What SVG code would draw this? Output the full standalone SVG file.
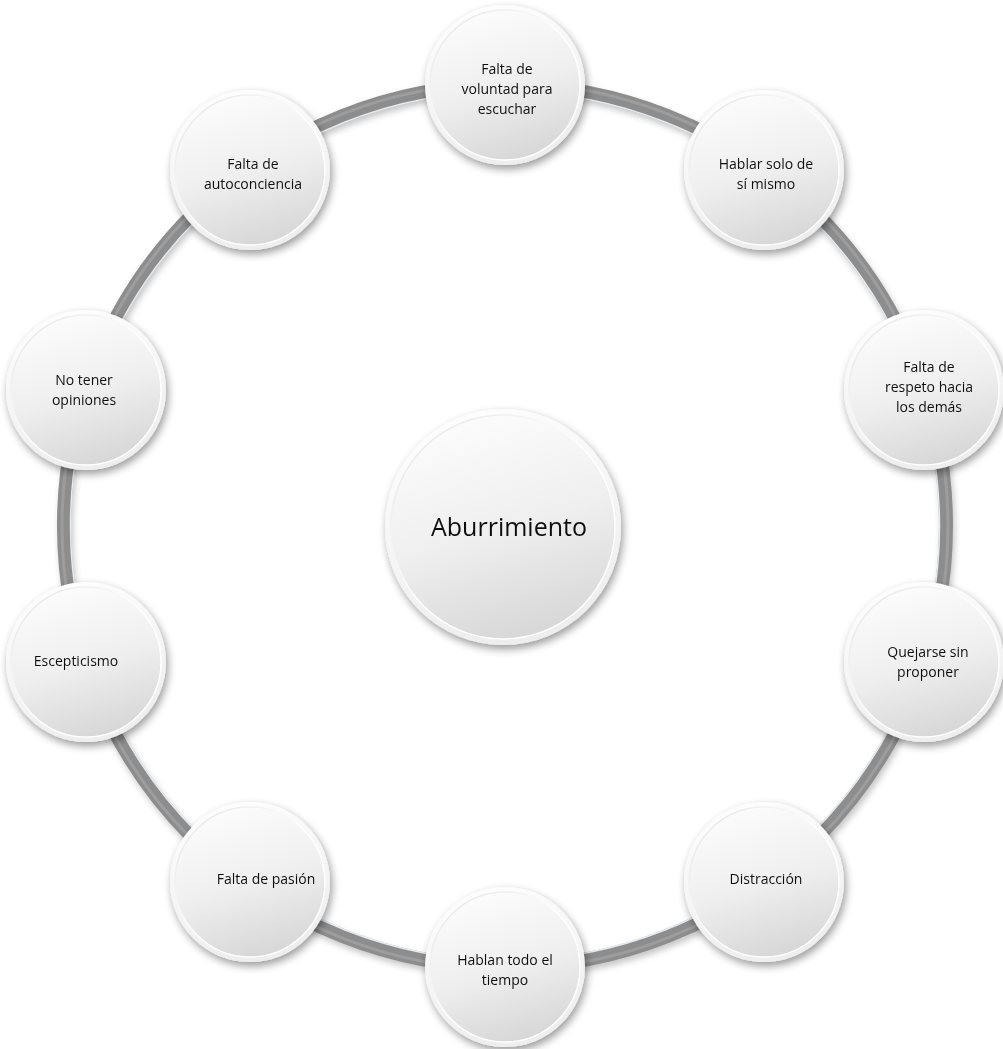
<svg xmlns="http://www.w3.org/2000/svg" width="1003" height="1049" viewBox="0 0 1003 1049">
  <defs>
    <filter id="shadow" x="-30%" y="-30%" width="160%" height="160%">
      <feGaussianBlur in="SourceAlpha" stdDeviation="4"/>
      <feOffset dx="2" dy="4" result="b"/>
      <feComponentTransfer><feFuncA type="linear" slope="0.4"/></feComponentTransfer>
      <feMerge><feMergeNode/><feMergeNode in="SourceGraphic"/></feMerge>
    </filter>
    <filter id="ringShadow" x="-10%" y="-10%" width="120%" height="120%">
      <feGaussianBlur stdDeviation="3"/>
    </filter>
    <linearGradient id="rim" x1="0" y1="0" x2="0.3" y2="1">
      <stop offset="0" stop-color="#ffffff"/>
      <stop offset="1" stop-color="#eeeeee"/>
    </linearGradient>
    <linearGradient id="face" x1="0.2" y1="0" x2="0.5" y2="1">
      <stop offset="0" stop-color="#fdfdfd"/>
      <stop offset="0.55" stop-color="#efefef"/>
      <stop offset="1" stop-color="#d8d8d8"/>
    </linearGradient>
    <linearGradient id="edge" x1="0" y1="0" x2="1" y2="1">
      <stop offset="0" stop-color="#e2e2e2"/>
      <stop offset="0.5" stop-color="#ffffff"/>
      <stop offset="1" stop-color="#ffffff"/>
    </linearGradient>
  </defs>
  <style>
    .rimc { fill: url(#rim); }
    .facec { fill: url(#face); stroke: url(#edge); stroke-width: 1.5; }
    .lbl { font-family: "Open Sans", "Liberation Sans", sans-serif; font-size: 14px; fill: #111111; text-anchor: middle; }
    .big { font-family: "Open Sans", "Liberation Sans", sans-serif; font-size: 25px; fill: #111111; text-anchor: middle; }
  </style>
  <rect width="1003" height="1049" fill="#ffffff"/>

  <g id="connectors">
    <circle cx="507" cy="530" r="441" fill="none" stroke="#000000" stroke-opacity="0.22" stroke-width="14" filter="url(#ringShadow)"/>
    <circle cx="505" cy="526" r="441" fill="none" stroke="#8d8d8d" stroke-width="14"/>
    <circle cx="505" cy="526" r="443" fill="none" stroke="#a8a8a8" stroke-width="3" stroke-opacity="0.6"/>
    <circle cx="505" cy="526" r="434.5" fill="none" stroke="#e4ebf1" stroke-width="1.5"/>
  </g>

  <g id="center" filter="url(#shadow)">
    <circle class="rimc" cx="503" cy="527" r="118"/>
    <circle class="facec" cx="503" cy="527" r="112"/>
    <text class="big" x="509" y="536">Aburrimiento</text>
  </g>

  <g id="n1" filter="url(#shadow)">
    <circle class="rimc" cx="505" cy="85" r="80"/>
    <circle class="facec" cx="505" cy="85" r="75"/>
    <text class="lbl" x="507" y="74">Falta de</text>
    <text class="lbl" x="507" y="94">voluntad para</text>
    <text class="lbl" x="507" y="114">escuchar</text>
  </g>
  <g id="n2" filter="url(#shadow)">
    <circle class="rimc" cx="764" cy="170" r="80"/>
    <circle class="facec" cx="764" cy="170" r="75"/>
    <text class="lbl" x="766" y="169">Hablar solo de</text>
    <text class="lbl" x="766" y="189">sí mismo</text>
  </g>
  <g id="n3" filter="url(#shadow)">
    <circle class="rimc" cx="924" cy="390" r="80"/>
    <circle class="facec" cx="924" cy="390" r="75"/>
    <text class="lbl" x="929" y="372">Falta de</text>
    <text class="lbl" x="929" y="392">respeto hacia</text>
    <text class="lbl" x="929" y="412">los demás</text>
  </g>
  <g id="n4" filter="url(#shadow)">
    <circle class="rimc" cx="924" cy="662" r="80"/>
    <circle class="facec" cx="924" cy="662" r="75"/>
    <text class="lbl" x="928" y="657">Quejarse sin</text>
    <text class="lbl" x="928" y="677">proponer</text>
  </g>
  <g id="n5" filter="url(#shadow)">
    <circle class="rimc" cx="764" cy="882" r="80"/>
    <circle class="facec" cx="764" cy="882" r="75"/>
    <text class="lbl" x="766" y="884">Distracción</text>
  </g>
  <g id="n6" filter="url(#shadow)">
    <circle class="rimc" cx="505" cy="967" r="80"/>
    <circle class="facec" cx="505" cy="967" r="75"/>
    <text class="lbl" x="505" y="965">Hablan todo el</text>
    <text class="lbl" x="505" y="985">tiempo</text>
  </g>
  <g id="n7" filter="url(#shadow)">
    <circle class="rimc" cx="250" cy="882" r="80"/>
    <circle class="facec" cx="250" cy="882" r="75"/>
    <text class="lbl" x="266" y="884">Falta de pasión</text>
  </g>
  <g id="n8" filter="url(#shadow)">
    <circle class="rimc" cx="86" cy="662" r="80"/>
    <circle class="facec" cx="86" cy="662" r="75"/>
    <text class="lbl" x="76" y="666">Escepticismo</text>
  </g>
  <g id="n9" filter="url(#shadow)">
    <circle class="rimc" cx="86" cy="390" r="80"/>
    <circle class="facec" cx="86" cy="390" r="75"/>
    <text class="lbl" x="84" y="385">No tener</text>
    <text class="lbl" x="84" y="405">opiniones</text>
  </g>
  <g id="n10" filter="url(#shadow)">
    <circle class="rimc" cx="250" cy="170" r="80"/>
    <circle class="facec" cx="250" cy="170" r="75"/>
    <text class="lbl" x="253" y="169">Falta de</text>
    <text class="lbl" x="253" y="189">autoconciencia</text>
  </g>
</svg>
